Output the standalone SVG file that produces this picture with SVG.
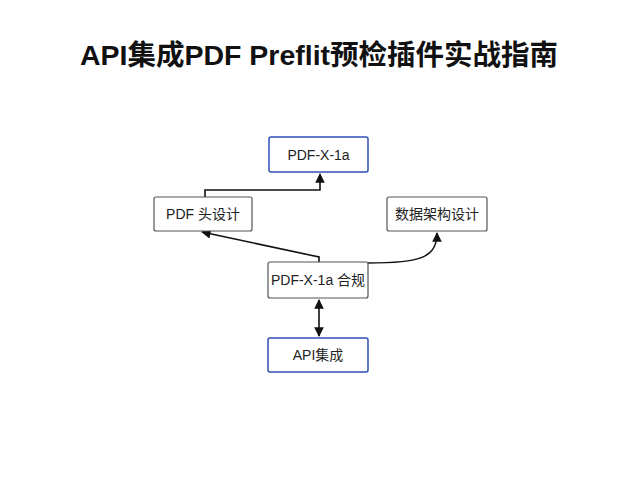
<svg xmlns="http://www.w3.org/2000/svg" width="640" height="480" viewBox="0 0 640 480">
<defs>
<style>
.title{font-family:"Liberation Sans","Noto Sans CJK SC",sans-serif;font-size:28.5px;font-weight:bold;fill:#111}
.box{fill:#fff;stroke:#555;stroke-width:1.2}
.blue{fill:#fff;stroke:#2f4fb5;stroke-width:1.5}
.lbl{font-family:"Liberation Sans","Noto Sans CJK SC",sans-serif;font-size:14px;fill:#222;text-anchor:middle;dominant-baseline:central}
.edge{fill:none;stroke:#111;stroke-width:1.6}
</style>
<marker id="ah" viewBox="0 0 10 10" refX="9" refY="5" markerWidth="6" markerHeight="6" orient="auto-start-reverse">
<path d="M0,0 L10,5 L0,10 z" fill="#111"/>
</marker>
</defs>
<rect width="640" height="480" fill="#fff"/>
<text class="title" x="319" y="65" text-anchor="middle">API集成PDF Preflit预检插件实战指南</text>
<g id="connectors">
<path class="edge" d="M205,197 V190 H320 V174" marker-end="url(#ah)"/>
<path class="edge" d="M319,262 V257 L202,232" marker-end="url(#ah)"/>
<path class="edge" d="M368,263 C420,263 437,258 437,233" marker-end="url(#ah)"/>
<path class="edge" d="M319,300 V336" marker-start="url(#ah)" marker-end="url(#ah)"/>
</g>
<g id="node-pdfx1a">
<rect class="blue" x="269" y="137" width="99" height="35" rx="2"/>
<text class="lbl" x="318.5" y="154.5">PDF-X-1a</text>
</g>
<g id="node-header">
<rect class="box" x="154" y="197" width="98" height="34" rx="2"/>
<text class="lbl" x="203" y="214">PDF 头设计</text>
</g>
<g id="node-data">
<rect class="box" x="387" y="197" width="100" height="34" rx="2"/>
<text class="lbl" x="437" y="214">数据架构设计</text>
</g>
<g id="node-compliance">
<rect class="box" x="268" y="262" width="100" height="36" rx="2"/>
<text class="lbl" x="318" y="280">PDF-X-1a 合规</text>
</g>
<g id="node-api">
<rect class="blue" x="268" y="338" width="100" height="34" rx="2"/>
<text class="lbl" x="318" y="355">API集成</text>
</g>
</svg>
